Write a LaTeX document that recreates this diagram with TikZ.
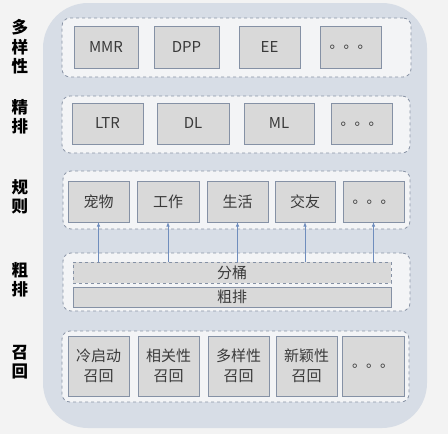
\documentclass[tikz,border=0pt]{standalone}
\usepackage{fontspec}
\setmainfont{Noto Sans CJK SC}
\usetikzlibrary{arrows.meta}
\definecolor{bgc}{HTML}{F3F3F3}
\definecolor{panelc}{HTML}{D7DDE6}
\definecolor{bandc}{HTML}{F3F4F6}
\definecolor{bandline}{HTML}{8A94A6}
\definecolor{boxc}{HTML}{D9D9D9}
\definecolor{boxline}{HTML}{8591A5}
\definecolor{arrc}{HTML}{6F8DBD}
\definecolor{txtc}{HTML}{3A3A3A}
\begin{document}
\begin{tikzpicture}[x=1pt,y=-1pt,
  band/.style={draw=bandline, fill=bandc, dashed, line width=0.8pt, rounded corners=8pt,
    anchor=north west, inner sep=0pt, outer sep=0pt},
  box/.style={draw=boxline, fill=boxc, line width=0.9pt, anchor=north west, inner sep=0pt,
    outer sep=0pt, text=txtc, font=\fontsize{15}{20}\selectfont, align=center},
  side/.style={font=\fontsize{16.5}{19.5}\selectfont\bfseries, align=center, text=black},
  arr/.style={draw=arrc, line width=0.8pt, -{Latex[length=4.5pt,width=3.5pt]}}
]
\fill[bgc] (0,0) rectangle (448,434);
\useasboundingbox (0,0) rectangle (448,434);
\fill[panelc, rounded corners=45pt] (43,3) rectangle (427,428);

% side labels
\node[side] (s1) at (20,47) {多\\样\\性};
\node[side] (s2) at (20,117) {精\\排};
\node[side] (s3) at (20,197) {规\\则};
\node[side] (s4) at (20,280) {粗\\排};
\node[side] (s5) at (20,362) {召\\回};

% bands
\node[band, minimum width=349, minimum height=59] (b1) at (62,18) {};
\node[band, minimum width=348, minimum height=57] (b2) at (62,96) {};
\node[band, minimum width=347, minimum height=58] (b3) at (63,171) {};
\node[band, minimum width=347, minimum height=58] (b4) at (63,253) {};
\node[band, minimum width=347, minimum height=71] (b5) at (62,331) {};

% row 1
\node[box, minimum width=64, minimum height=42] (mmr) at (74,26) {MMR};
\node[box, minimum width=65, minimum height=42] (dpp) at (154,26) {DPP};
\node[box, minimum width=61, minimum height=42] (ee) at (239,26) {EE};
\node[box, minimum width=61, minimum height=42] (d1) at (320,26) {\raisebox{-4pt}{\fontsize{14}{14}\selectfont 。。。}};

% row 2
\node[box, minimum width=71, minimum height=41] (ltr) at (72,103) {LTR};
\node[box, minimum width=72, minimum height=41] (dl) at (157,103) {DL};
\node[box, minimum width=70, minimum height=41] (ml) at (244,103) {ML};
\node[box, minimum width=61, minimum height=41] (d2) at (331,103) {\raisebox{-4pt}{\fontsize{14}{14}\selectfont 。。。}};

% row 3
\node[box, minimum width=61, minimum height=41] (r1) at (68,181) {宠物};
\node[box, minimum width=62, minimum height=41] (r2) at (137,181) {工作};
\node[box, minimum width=61, minimum height=41] (r3) at (207,181) {生活};
\node[box, minimum width=60, minimum height=41] (r4) at (275,181) {交友};
\node[box, minimum width=61, minimum height=41] (d3) at (343,181) {\raisebox{-4pt}{\fontsize{14}{14}\selectfont 。。。}};

% row 4
\node[box, dashed, minimum width=318, minimum height=21] (fentong) at (73,262) {分桶};
\node[box, minimum width=318, minimum height=20] (cupai) at (73,287) {粗排};

% row 5
\node[box, minimum width=61, minimum height=60] (c1) at (68,336) {冷启动\\召回};
\node[box, minimum width=61, minimum height=60] (c2) at (138,336) {相关性\\召回};
\node[box, minimum width=61, minimum height=60] (c3) at (208,336) {多样性\\召回};
\node[box, minimum width=61, minimum height=60] (c4) at (276,336) {新颖性\\召回};
\node[box, minimum width=62, minimum height=60] (d5) at (342,336) {\raisebox{-4pt}{\fontsize{14}{14}\selectfont 。。。}};

% arrows
\foreach \t in {r1,r2,r3,r4,d3}{
  \draw[arr] (fentong.north -| \t.south) -- (\t.south);
}
\end{tikzpicture}
\end{document}
